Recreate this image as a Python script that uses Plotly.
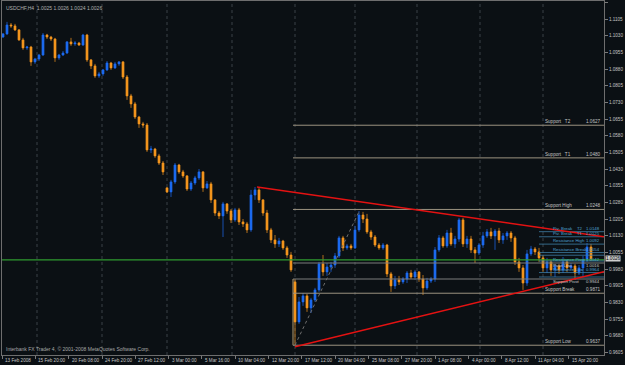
import plotly.graph_objects as go

# ---------------- data (USDCHF H4) ----------------
open_ = [
    1.1024, 1.1038, 1.1078, 1.1074, 1.1056, 1.1011, 1.0975, 1.0979, 1.0912, 1.0925,
    1.0943, 1.1033, 1.1024, 1.1015, 1.0930, 1.0943, 1.0952, 1.1002, 1.0993, 1.0997,
    1.0988, 1.1033, 1.0921, 1.0894, 1.0849, 1.0858, 1.0876, 1.0907, 1.0885, 1.0903,
    1.0912, 1.0844, 1.0759, 1.0723, 1.0664, 1.0633, 1.0628, 1.0516, 1.0520, 1.0489,
    1.0457, 1.0345, 1.0327, 1.0372, 1.0448, 1.0417, 1.0399, 1.0340, 1.0367, 1.0390,
    1.0417, 1.0345, 1.0363, 1.0291, 1.0232, 1.0219, 1.0273, 1.0241, 1.0201, 1.0246,
    1.0192, 1.0183, 1.0156, 1.0313, 1.0336, 1.0291, 1.0232, 1.0156, 1.0111, 1.0093,
    1.0106, 1.0075, 1.0043, 0.9922, 0.9742, 0.9832, 0.9859, 0.9805, 0.9841, 0.9886,
    1.0003, 0.9967, 0.9989, 0.9998, 1.0039, 1.0120, 1.0075, 1.0084, 1.0075, 1.0156,
    1.0223, 1.0205, 1.0147, 1.0124, 1.0088, 1.0075, 1.0088, 0.9958, 0.9904, 0.9931,
    0.9922, 0.9935, 0.9962, 0.9944, 0.9967, 0.9935, 0.9895, 0.9926, 0.9935, 1.0066,
    1.0120, 1.0084, 1.0142, 1.0093, 1.0115, 1.0201, 1.0093, 1.0115, 1.0066, 1.0052,
    1.0088, 1.0129, 1.0147, 1.0129, 1.0151, 1.0111, 1.0129, 1.0142, 1.0120, 1.0012,
    0.9985, 0.9917, 1.0048, 1.0070, 1.0057, 1.0030, 0.9985, 1.0012, 0.9976, 0.9994,
    0.9976, 1.0012, 0.9985, 0.9994, 0.9962, 0.9985, 1.0021, 1.0079,
]
high = [
    1.1042, 1.1092, 1.1087, 1.1083, 1.1060, 1.1020, 1.0984, 1.0984, 1.0930, 1.0948,
    1.1042, 1.1038, 1.1029, 1.1020, 1.0948, 1.0961, 1.1006, 1.1020, 1.1006, 1.1002,
    1.1038, 1.1038, 1.0925, 1.0903, 1.0867, 1.0880, 1.0916, 1.0912, 1.0912, 1.0916,
    1.0916, 1.0853, 1.0768, 1.0732, 1.0669, 1.0642, 1.0637, 1.0534, 1.0525, 1.0498,
    1.0466, 1.0349, 1.0381, 1.0457, 1.0453, 1.0426, 1.0403, 1.0376, 1.0399, 1.0430,
    1.0421, 1.0376, 1.0372, 1.0295, 1.0241, 1.0282, 1.0277, 1.0250, 1.0255, 1.0255,
    1.0205, 1.0192, 1.0336, 1.0349, 1.0345, 1.0295, 1.0246, 1.0165, 1.0133, 1.0120,
    1.0111, 1.0084, 1.0057, 0.9935, 0.9854, 0.9872, 0.9868, 0.9850, 0.9895, 1.0012,
    1.0043, 1.0007, 1.0012, 1.0052, 1.0129, 1.0129, 1.0093, 1.0093, 1.0174, 1.0241,
    1.0237, 1.0228, 1.0156, 1.0133, 1.0097, 1.0097, 1.0093, 0.9967, 0.9949, 0.9949,
    0.9944, 0.9971, 0.9976, 0.9976, 0.9971, 0.9953, 0.9940, 0.9944, 1.0079, 1.0133,
    1.0129, 1.0156, 1.0165, 1.0129, 1.0210, 1.0210, 1.0129, 1.0129, 1.0079, 1.0097,
    1.0147, 1.0160, 1.0165, 1.0160, 1.0165, 1.0142, 1.0151, 1.0151, 1.0129, 1.0030,
    0.9998, 1.0066, 1.0084, 1.0079, 1.0075, 1.0043, 1.0030, 1.0021, 1.0003, 1.0003,
    1.0034, 1.0021, 1.0007, 1.0003, 0.9998, 1.0039, 1.0097, 1.0093,
]
low = [
    1.1020, 1.1033, 1.1065, 1.1051, 1.1006, 1.0966, 1.0966, 1.0894, 1.0903, 1.0916,
    1.0939, 1.1015, 1.1006, 1.0912, 1.0921, 1.0939, 1.0948, 1.0984, 1.0984, 1.0984,
    1.0984, 1.0912, 1.0880, 1.0840, 1.0840, 1.0849, 1.0871, 1.0876, 1.0880, 1.0894,
    1.0835, 1.0741, 1.0705, 1.0655, 1.0615, 1.0615, 1.0507, 1.0502, 1.0480, 1.0448,
    1.0403, 1.0322, 1.0304, 1.0363, 1.0408, 1.0390, 1.0331, 1.0331, 1.0358, 1.0381,
    1.0327, 1.0340, 1.0277, 1.0219, 1.0205, 1.0124, 1.0228, 1.0187, 1.0192, 1.0178,
    1.0169, 1.0142, 1.0147, 1.0291, 1.0277, 1.0219, 1.0142, 1.0097, 1.0075, 1.0079,
    1.0066, 1.0030, 0.9967, 0.9638, 0.9733, 0.9814, 0.9787, 0.9782, 0.9832, 0.9877,
    0.9949, 0.9949, 0.9967, 0.9985, 1.0030, 1.0061, 1.0066, 1.0066, 1.0070, 1.0147,
    1.0187, 1.0138, 1.0111, 1.0079, 1.0066, 1.0066, 0.9944, 0.9877, 0.9890, 0.9908,
    0.9913, 0.9917, 0.9935, 0.9931, 0.9922, 0.9863, 0.9886, 0.9917, 0.9922, 1.0057,
    1.0075, 1.0075, 1.0084, 1.0075, 1.0102, 1.0079, 1.0075, 1.0052, 1.0007, 1.0043,
    1.0075, 1.0120, 1.0115, 1.0066, 1.0097, 1.0093, 1.0111, 1.0102, 0.9998, 0.9967,
    0.9886, 0.9904, 1.0039, 1.0043, 1.0012, 0.9967, 0.9962, 0.9949, 0.9944, 0.9958,
    0.9962, 0.9967, 0.9976, 0.9931, 0.9953, 0.9944, 1.0012, 1.0016,
]
close = [
    1.1038, 1.1078, 1.1074, 1.1056, 1.1011, 1.0975, 1.0979, 1.0912, 1.0925, 1.0943,
    1.1033, 1.1024, 1.1015, 1.0930, 1.0943, 1.0952, 1.1002, 1.0993, 1.0997, 1.0988,
    1.1033, 1.0921, 1.0894, 1.0849, 1.0858, 1.0876, 1.0907, 1.0885, 1.0903, 1.0912,
    1.0844, 1.0759, 1.0723, 1.0664, 1.0633, 1.0628, 1.0516, 1.0520, 1.0489, 1.0457,
    1.0417, 1.0327, 1.0372, 1.0448, 1.0417, 1.0399, 1.0340, 1.0367, 1.0390, 1.0417,
    1.0345, 1.0363, 1.0291, 1.0232, 1.0219, 1.0273, 1.0241, 1.0201, 1.0246, 1.0192,
    1.0183, 1.0156, 1.0313, 1.0336, 1.0291, 1.0232, 1.0156, 1.0111, 1.0093, 1.0106,
    1.0075, 1.0043, 0.9976, 0.9742, 0.9832, 0.9859, 0.9805, 0.9841, 0.9886, 1.0003,
    0.9967, 0.9989, 0.9998, 1.0039, 1.0120, 1.0075, 1.0084, 1.0075, 1.0156, 1.0223,
    1.0205, 1.0147, 1.0124, 1.0088, 1.0075, 1.0088, 0.9958, 0.9904, 0.9931, 0.9922,
    0.9935, 0.9962, 0.9944, 0.9967, 0.9935, 0.9895, 0.9926, 0.9935, 1.0066, 1.0120,
    1.0084, 1.0142, 1.0093, 1.0115, 1.0201, 1.0093, 1.0115, 1.0066, 1.0052, 1.0088,
    1.0129, 1.0147, 1.0129, 1.0151, 1.0111, 1.0129, 1.0142, 1.0120, 1.0012, 0.9985,
    0.9917, 1.0048, 1.0070, 1.0057, 1.0030, 0.9985, 1.0012, 0.9976, 0.9994, 0.9976,
    1.0012, 0.9985, 0.9994, 0.9962, 0.9985, 1.0021, 1.0079, 1.0026,
]

time_labels = ["13 Feb 2008", "15 Feb 20:00", "20 Feb 08:00", "24 Feb 20:00",
               "27 Feb 12:00", "3 Mar 00:00", "5 Mar 16:00", "10 Mar 04:00",
               "12 Mar 20:00", "17 Mar 12:00", "20 Mar 04:00", "25 Mar 08:00",
               "27 Mar 20:00", "1 Apr 08:00", "4 Apr 00:00", "8 Apr 12:00",
               "11 Apr 04:00", "15 Apr 20:00"]
price_ticks = [1.1180, 1.1105, 1.1030, 1.0955, 1.0880, 1.0805, 1.0730, 1.0655,
               1.0580, 1.0505, 1.0430, 1.0355, 1.0280, 1.0205, 1.0130, 1.0055,
               0.9980, 0.9905, 0.9830, 0.9755, 0.9680, 0.9605]

support_names = ["Support   T2", "Support   T1", "Support High", "Support Break", "Support Low"]
support_values = [1.0627, 1.0480, 1.0248, 0.9871, 0.9637]
middle_levels = [1.0007, 0.9935]
pivot_names = ["Piv. Break    T2", "Piv. Break    T1", "Resistance High",
               "Resistance Break", "Resistance Pivot", "Pivot Low",
               "Resistance Low", "Support Pivot"]
pivot_values = [1.0148, 1.0125, 1.0092, 1.0054, 1.0042, 1.0016, 0.9964, 0.9944]
pivot_below = ["Resistance Pivot", "Pivot Low", "Support Pivot"]
green_level = 1.0021
last_price = 1.0026
header = "USDCHF,H4  1.0025 1.0026 1.0024 1.0026"
footer = "Interbank FX Trader 4, \u00a9 2001-2008 MetaQuotes Software Corp."

# trend lines: (bar index, price) anchors
upper_trend = [(63.5, 1.0349), (150.25, 1.0125)]
lower_trend = [(73.0, 0.9630), (150.25, 0.9968)]
swing_line = [(73.0, 0.9637), (89.0, 1.0238)]
grid_bars = [8.5, 24.75, 41, 57.25, 73, 88, 103.5, 119.25, 135]
levels_start = 72.5

# ---------------- styling ----------------
BG = "#0b1014"
ORANGE = "#f5961e"
BLUE = "#1d6cf0"
TXT = "#c4c4c4"
FONT = "Liberation Sans"
FS = 4.6
X_END = 150.25

idx = list(range(len(close)))

fig = go.Figure()
fig.add_trace(go.Candlestick(
    x=idx, open=open_, high=high, low=low, close=close,
    increasing=dict(line=dict(color=BLUE, width=0.7), fillcolor=BLUE),
    decreasing=dict(line=dict(color=ORANGE, width=0.7), fillcolor=ORANGE),
    whiskerwidth=0, showlegend=False, hoverinfo="skip",
))

shapes = []
for g in grid_bars:
    shapes.append(dict(type="line", xref="x", yref="paper", x0=g, x1=g, y0=0, y1=1,
                       line=dict(color="#3a4047", width=1, dash="dot"), layer="below"))
# green horizontal line
shapes.append(dict(type="line", xref="paper", yref="y", x0=0, x1=1, y0=green_level, y1=green_level,
                   line=dict(color="#2f9a2f", width=1.2)))
# support levels
for v in support_values:
    shapes.append(dict(type="line", xref="x", yref="y", x0=levels_start, x1=X_END, y0=v, y1=v,
                       line=dict(color="#9c9280", width=1)))
for v in middle_levels:
    shapes.append(dict(type="line", xref="x", yref="y", x0=levels_start, x1=X_END, y0=v, y1=v,
                       line=dict(color="#7d7d7d", width=1)))
# pivot short lines
for v in pivot_values:
    shapes.append(dict(type="line", xref="x", yref="y", x0=134, x1=X_END, y0=v, y1=v,
                       line=dict(color="#3f7ea6", width=0.8)))
# vertical marker at the low
shapes.append(dict(type="line", xref="x", yref="y", x0=levels_start, x1=levels_start,
                   y0=support_values[4], y1=middle_levels[1],
                   line=dict(color="#b49a6e", width=1)))
# swing dotted line
shapes.append(dict(type="line", xref="x", yref="y",
                   x0=swing_line[0][0], y0=swing_line[0][1], x1=swing_line[1][0], y1=swing_line[1][1],
                   line=dict(color="#6f6f6f", width=1, dash="dot")))
# trend lines
for tl in (upper_trend, lower_trend):
    shapes.append(dict(type="line", xref="x", yref="y", x0=tl[0][0], y0=tl[0][1],
                       x1=tl[1][0], y1=tl[1][1], line=dict(color="#e41212", width=1.6)))

ann = []
tick_pos = [k * 8.333 - 0.25 for k in range(len(time_labels))]
for p, t in zip(tick_pos, time_labels):
    ann.append(dict(x=p, xref="x", y=0, yref="paper", text=t, showarrow=False,
                    xanchor="left", yanchor="top", xshift=1, yshift=-1,
                    font=dict(family=FONT, size=FS, color=TXT)))
for n, v in zip(support_names, support_values):
    ann.append(dict(x=135, xref="x", y=v, yref="y", text=n, showarrow=False,
                    xanchor="left", yanchor="bottom", yshift=-1,
                    font=dict(family=FONT, size=FS, color=TXT)))
    ann.append(dict(x=149.75, xref="x", y=v, yref="y", text=f"{v:.4f}", showarrow=False,
                    xanchor="right", yanchor="bottom", yshift=-1,
                    font=dict(family=FONT, size=FS, color=TXT)))
for n, v in zip(pivot_names, pivot_values):
    col = TXT if n in ("Pivot Low", "Support Pivot") else "#4fa3d4"
    below = n in pivot_below
    ya = "top" if below else "bottom"
    ys = 0 if below else -1
    ann.append(dict(x=137, xref="x", y=v, yref="y", text=n, showarrow=False,
                    xanchor="left", yanchor=ya, yshift=ys,
                    font=dict(family=FONT, size=4.3, color=col)))
    ann.append(dict(x=149.75, xref="x", y=v, yref="y", text=f"{v:.4f}", showarrow=False,
                    xanchor="right", yanchor=ya, yshift=ys,
                    font=dict(family=FONT, size=4.3, color=col)))
ann.append(dict(x=0, xref="paper", y=1, yref="paper", text=header, showarrow=False,
                xanchor="left", yanchor="top", xshift=2, yshift=-2,
                font=dict(family=FONT, size=5, color="#b0b0b0")))
ann.append(dict(x=0, xref="paper", y=0, yref="paper", text=footer, showarrow=False,
                xanchor="left", yanchor="bottom", xshift=2, yshift=1,
                font=dict(family=FONT, size=5, color="#a8a8a8")))
ann.append(dict(x=1, xref="paper", y=last_price, yref="y", text=f"{last_price:.4f}",
                showarrow=False, xanchor="left", yanchor="middle", xshift=1,
                bgcolor="#cfcfcf", borderpad=0,
                font=dict(family=FONT, size=FS, color="#000000")))

fig.update_layout(
    width=625, height=365,
    margin=dict(l=2, r=21, t=1, b=10),
    paper_bgcolor=BG, plot_bgcolor=BG,
    shapes=shapes, annotations=ann, showlegend=False,
    xaxis=dict(range=[-0.25, X_END], showgrid=False, zeroline=False,
               rangeslider=dict(visible=False),
               tickvals=tick_pos, ticktext=[""] * len(tick_pos),
               ticks="outside", ticklen=3, tickcolor="#7a7a7a",
               showline=True, mirror=True, linecolor="#6e6e6e", linewidth=1),
    yaxis=dict(range=[0.9593, 1.1186], side="right", showgrid=False, zeroline=False,
               tickvals=price_ticks, ticktext=[f"{v:.4f}" for v in price_ticks],
               ticks="outside", ticklen=3, tickcolor="#7a7a7a",
               tickfont=dict(family=FONT, size=FS, color=TXT),
               showline=True, mirror=True, linecolor="#6e6e6e", linewidth=1),
)

fig.write_html("out.html")
